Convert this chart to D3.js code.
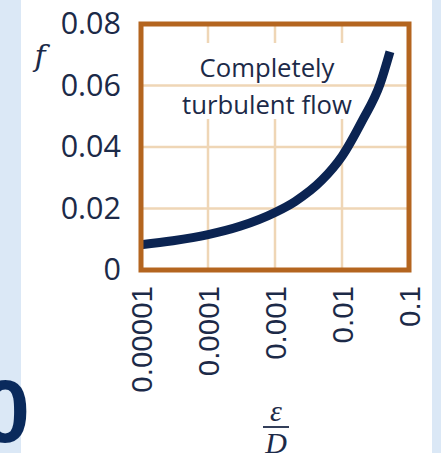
<!DOCTYPE html>
<html>
<head>
<meta charset="utf-8">
<script src="https://cdn.jsdelivr.net/npm/d3@7"></script>
<style>
  html, body { margin: 0; padding: 0; background: #dbe8f6; }
  svg { display: block; }
</style>
</head>
<body>
<svg id="chart" width="441" height="453"></svg>
<script>
// Relative roughness (ε/D) and friction factor f for completely turbulent flow
const roughnessRatio = [0.00001, 0.00003, 0.0001, 0.0003, 0.001, 0.002, 0.005, 0.01, 0.02, 0.037, 0.052];
const frictionFactor = [0.0082, 0.0095, 0.0115, 0.0142, 0.0187, 0.0223, 0.0292, 0.0370, 0.0485, 0.0605, 0.0710];

const xTickValues = [0.00001, 0.0001, 0.001, 0.01, 0.1];
const xTickLabels = ["0.00001", "0.0001", "0.001", "0.01", "0.1"];
const yTickValues = [0, 0.02, 0.04, 0.06, 0.08];
const yTickLabels = ["0", "0.02", "0.04", "0.06", "0.08"];
const noteLines = ["Completely", "turbulent flow"];

const svg = d3.select("#chart");
const W = 441, H = 453;

const ink = "#1c2a48";
const navy = "#0b2452";
const brown = "#b4651f";
const gridTan = "#efd6b6";

// page panel with blue margins
svg.append("rect").attr("x", 0).attr("y", 0).attr("width", W).attr("height", H).attr("fill", "#dbe8f6");
svg.append("rect").attr("x", 21).attr("y", 0).attr("width", 411).attr("height", H).attr("fill", "#ffffff");

const x = d3.scaleLog().domain([0.00001, 0.1]).range([141, 409]);
const y = d3.scaleLinear().domain([0, 0.08]).range([270, 24]);

// vertical grid
svg.append("g")
  .selectAll("line")
  .data(xTickValues.slice(1, -1))
  .join("line")
  .attr("x1", d => x(d)).attr("x2", d => x(d))
  .attr("y1", y(0.08)).attr("y2", y(0))
  .attr("stroke", gridTan).attr("stroke-width", 2.5);

// white backing behind the note
svg.append("rect")
  .attr("x", 172).attr("y", 43).attr("width", 190).attr("height", 76)
  .attr("fill", "#ffffff");

// horizontal grid
svg.append("g")
  .selectAll("line")
  .data(yTickValues.slice(1, -1))
  .join("line")
  .attr("x1", x(0.00001)).attr("x2", x(0.1))
  .attr("y1", d => y(d)).attr("y2", d => y(d))
  .attr("stroke", gridTan).attr("stroke-width", 2.5);

// note text
svg.append("g")
  .selectAll("text")
  .data(noteLines)
  .join("text")
  .attr("x", 267)
  .attr("y", (d, i) => 77 + i * 37)
  .attr("text-anchor", "middle")
  .attr("font-family", "'Open Sans', 'Liberation Sans', sans-serif")
  .attr("font-size", 25.7)
  .attr("fill", ink)
  .text(d => d);

// friction factor curve
const pts = roughnessRatio.map((r, i) => [r, frictionFactor[i]]);
svg.append("path")
  .datum(pts)
  .attr("fill", "none")
  .attr("stroke", navy)
  .attr("stroke-width", 9)
  .attr("d", d3.line().x(d => x(d[0])).y(d => y(d[1])).curve(d3.curveMonotoneX));

// plot frame
svg.append("rect")
  .attr("x", x(0.00001)).attr("y", y(0.08))
  .attr("width", x(0.1) - x(0.00001)).attr("height", y(0) - y(0.08))
  .attr("fill", "none").attr("stroke", brown).attr("stroke-width", 5);

// y axis labels
const yAxis = svg.append("g")
  .attr("transform", `translate(${x(0.00001)},0)`)
  .call(d3.axisLeft(y).tickValues(yTickValues).tickSize(0).tickPadding(20)
        .tickFormat((d, i) => yTickLabels[i]));
yAxis.select(".domain").remove();
yAxis.selectAll("text")
  .attr("font-family", "'Open Sans', 'Liberation Sans', sans-serif")
  .attr("font-size", 30.5)
  .attr("fill", ink);

// x axis labels (rotated)
const xAxis = svg.append("g")
  .attr("transform", `translate(0,${y(0)})`)
  .call(d3.axisBottom(x).tickValues(xTickValues).tickSize(0)
        .tickFormat((d, i) => xTickLabels[i]));
xAxis.select(".domain").remove();
xAxis.selectAll("text")
  .attr("x", 0).attr("y", 0)
  .attr("dy", "0.36em")
  .attr("transform", "translate(0,16) rotate(-90)")
  .attr("text-anchor", "end")
  .attr("font-family", "'Liberation Sans', Arial, sans-serif")
  .attr("font-size", 29.5)
  .attr("fill", ink);

// axis symbols
svg.append("text")
  .attr("x", 40).attr("y", 66)
  .attr("text-anchor", "middle")
  .attr("font-family", "'DejaVu Serif', 'Liberation Serif', serif")
  .attr("font-style", "italic")
  .attr("font-size", 30)
  .attr("fill", ink)
  .text("f");

const frac = svg.append("g").attr("transform", "translate(276,0)");
frac.append("text")
  .attr("x", 0).attr("y", 421)
  .attr("text-anchor", "middle")
  .attr("font-family", "'Liberation Serif', 'DejaVu Serif', serif")
  .attr("font-style", "italic")
  .attr("font-size", 30)
  .attr("fill", ink)
  .text("ε");
frac.append("line")
  .attr("x1", -13).attr("x2", 13).attr("y1", 427).attr("y2", 427)
  .attr("stroke", ink).attr("stroke-width", 1.8);
frac.append("text")
  .attr("x", 0).attr("y", 453)
  .attr("text-anchor", "middle")
  .attr("font-family", "'Liberation Serif', 'DejaVu Serif', serif")
  .attr("font-style", "italic")
  .attr("font-size", 30)
  .attr("fill", ink)
  .text("D");

// large panel number at the left edge
svg.append("text")
  .attr("x", 30).attr("y", 442)
  .attr("text-anchor", "end")
  .attr("font-family", "'Liberation Sans', Arial, sans-serif")
  .attr("font-weight", "bold")
  .attr("font-size", 89)
  .attr("fill", "#0a2a5c")
  .text("0");
</script>
</body>
</html>
